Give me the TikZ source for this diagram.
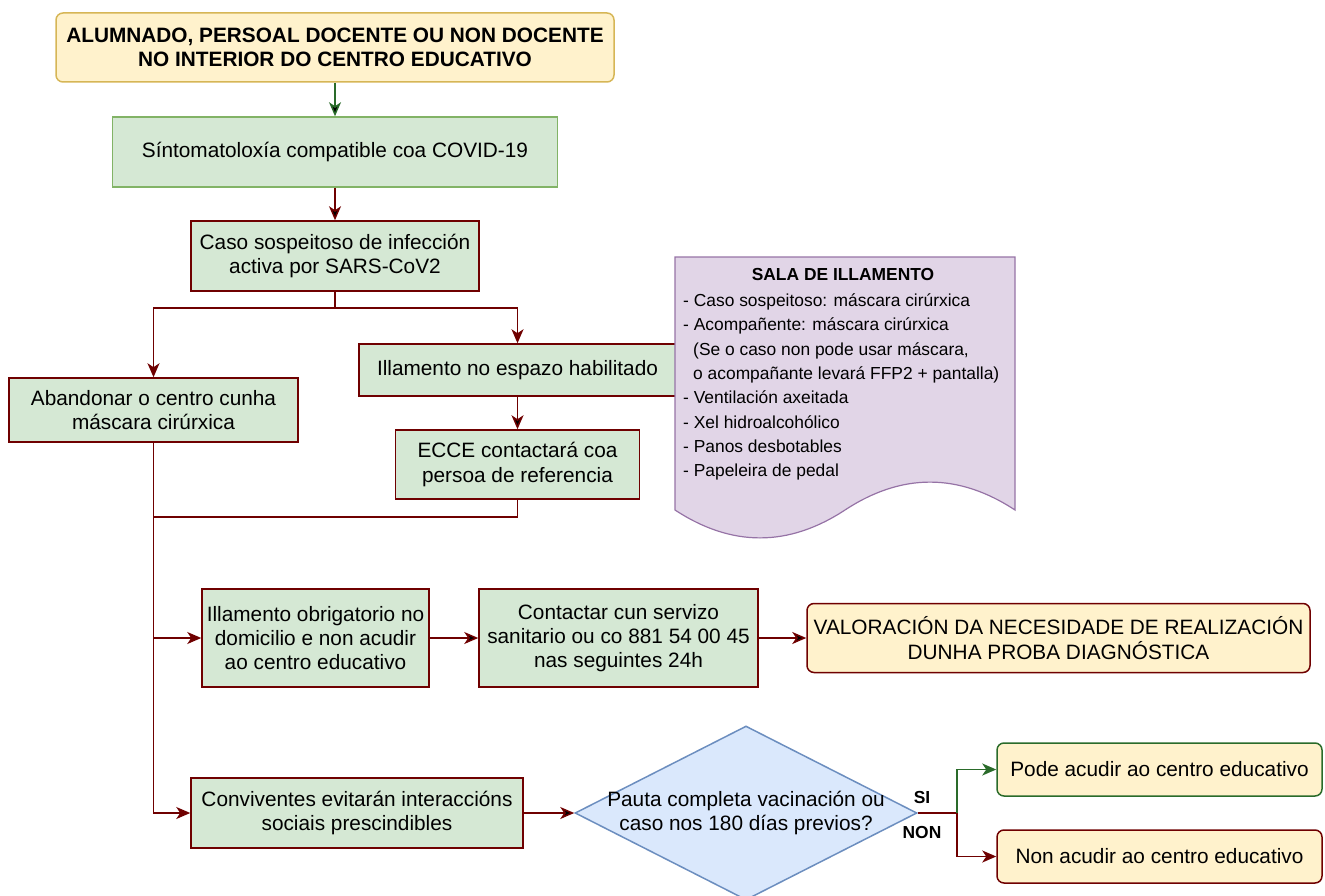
\documentclass[tikz,border=0pt]{standalone}
\usepackage{fontspec}
\setmainfont{Liberation Sans}
\usetikzlibrary{shapes.geometric,arrows.meta}
\definecolor{darkred}{HTML}{6F0000}
\definecolor{darkgreen}{HTML}{2A6B2A}
\definecolor{boxgreen}{HTML}{D5E8D4}
\definecolor{edgegreen}{HTML}{82B366}
\definecolor{boxyellow}{HTML}{FFF2CC}
\definecolor{edgeyellow}{HTML}{D6B656}
\definecolor{boxblue}{HTML}{DAE8FC}
\definecolor{edgeblue}{HTML}{6C8EBF}
\definecolor{boxlilac}{HTML}{E1D5E7}
\definecolor{edgelilac}{HTML}{9673A6}
\begin{document}
\begin{tikzpicture}[x=1pt,y=-1pt,
	font=\fontsize{20.8}{24.3}\selectfont,
	box/.style={draw=darkred,fill=boxgreen,line width=1.5pt,align=center,inner sep=0pt},
	endbox/.style={box,fill=boxyellow,rounded corners=7pt},
	boldtext/.style={font=\fontsize{20.8}{24.3}\selectfont\bfseries},
	smalltext/.style={font=\fontsize{17.4}{24.3}\selectfont},
	tip/.style={-{Stealth[length=14pt,width=12pt,inset=4pt]}},
	redline/.style={draw=darkred,line width=1.5pt},
	redarrow/.style={redline,tip},
	greenarrow/.style={draw=darkgreen,line width=1.5pt,tip}]
	\useasboundingbox (0,0) rectangle (1325,896);
	\node[endbox,draw=edgeyellow,boldtext,minimum width=558pt,minimum height=69pt](top) at (335,47.5){ALUMNADO, PERSOAL DOCENTE OU NON DOCENTE\\NO INTERIOR DO CENTRO EDUCATIVO};
	\node[box,draw=edgegreen,minimum width=445pt,minimum height=70pt,below of=top,node distance=104.5pt](sint){Síntomatoloxía compatible coa COVID-19};
	\node[box,minimum width=288pt,minimum height=70pt,below of=sint,node distance=104pt](caso){Caso sospeitoso de infección\\activa por SARS-CoV2};
	\node[box,minimum width=289pt,minimum height=64pt](aband) at (153.5,410){Abandonar o centro cunha\\máscara cirúrxica};
	\node[box,minimum width=317pt,minimum height=52pt](illam) at (517.5,370){Illamento no espazo habilitado};
	\node[box,minimum width=244pt,minimum height=69pt,below of=illam,node distance=94.5pt](ecce){ECCE contactará coa\\persoa de referencia};
	\node[box,minimum width=227pt,minimum height=98pt](obrig) at (315.5,638){Illamento obrigatorio no\\domicilio e non acudir\\ao centro educativo};
	\node[box,minimum width=279pt,minimum height=98pt,right of=obrig,node distance=303pt](contac){Contactar cun servizo\\sanitario ou co 881 54 00 45\\nas seguintes 24h};
	\node[endbox,minimum width=503pt,minimum height=69pt,right of=contac,node distance=440pt](valor){VALORACIÓN DA NECESIDADE DE REALIZACIÓN\\DUNHA PROBA DIAGNÓSTICA};
	\node[box,minimum width=332pt,minimum height=70pt](conv) at (357,813){Conviventes evitarán interaccións\\sociais prescindibles};
	\node[diamond,draw=edgeblue,fill=boxblue,line width=1.5pt,inner sep=0pt,minimum width=342pt,minimum height=174pt](pauta) at (746,813){};
	\node[align=center](pautatext) at (pauta){Pauta completa vacinación ou\\caso nos 180 días previos?};
	\node[endbox,draw=darkgreen,minimum width=325pt,minimum height=53pt](pode) at (1159.5,769.5){Pode acudir ao centro educativo};
	\node[endbox,minimum width=325pt,minimum height=53pt,below of=pode,node distance=87pt](non){Non acudir ao centro educativo};
	\node[smalltext,font=\fontsize{17.4}{24.3}\selectfont\bfseries](si) at (922,798){SI};
	\node[smalltext,font=\fontsize{17.4}{24.3}\selectfont\bfseries](nonlabel) at (922,833){NON};
	\draw[draw=edgelilac,fill=boxlilac,line width=1.2pt] (675,257) -- (1015,257) -- (1015,510) .. controls (958.3,472.8) and (901.7,472.8) .. (845,510) .. controls (788.3,547.2) and (731.7,547.2) .. (675,510) -- cycle;
	\node[smalltext,font=\fontsize{17.4}{24.3}\selectfont\bfseries](salatitle) at (843,275){SALA DE ILLAMENTO};
	\node[smalltext,align=left,anchor=west,inner sep=0pt](salalist) at (683,387){- Caso sospeitoso: máscara cirúrxica\\- Acompañente: máscara cirúrxica\\\hspace*{10pt}(Se o caso non pode usar máscara,\\\hspace*{10pt}o acompañante levará FFP2 + pantalla)\\- Ventilación axeitada\\- Xel hidroalcohólico\\- Panos desbotables\\- Papeleira de pedal};
	\coordinate (split) at (335,308);
	\coordinate (join) at (153.5,517);
	\coordinate (fork) at (957,813);
	\path[greenarrow]
	(top) edge (sint);
	\path[redarrow]
	(sint) edge (caso)
	(illam) edge (ecce)
	(obrig) edge (contac)
	(contac) edge (valor)
	(conv) edge (pauta);
	\draw[redline] (caso) -- (split);
	\draw[redarrow] (split) -| (aband);
	\draw[redarrow] (split) -| (illam);
	\draw[redline] (ecce) |- (join);
	\draw[redarrow] (aband) |- (obrig);
	\draw[redarrow] (aband) |- (conv);
	\draw[redline] (pauta) -- (fork);
	\draw[greenarrow] (fork) |- (pode);
	\draw[redarrow] (fork) |- (non);
\end{tikzpicture}
\end{document}
